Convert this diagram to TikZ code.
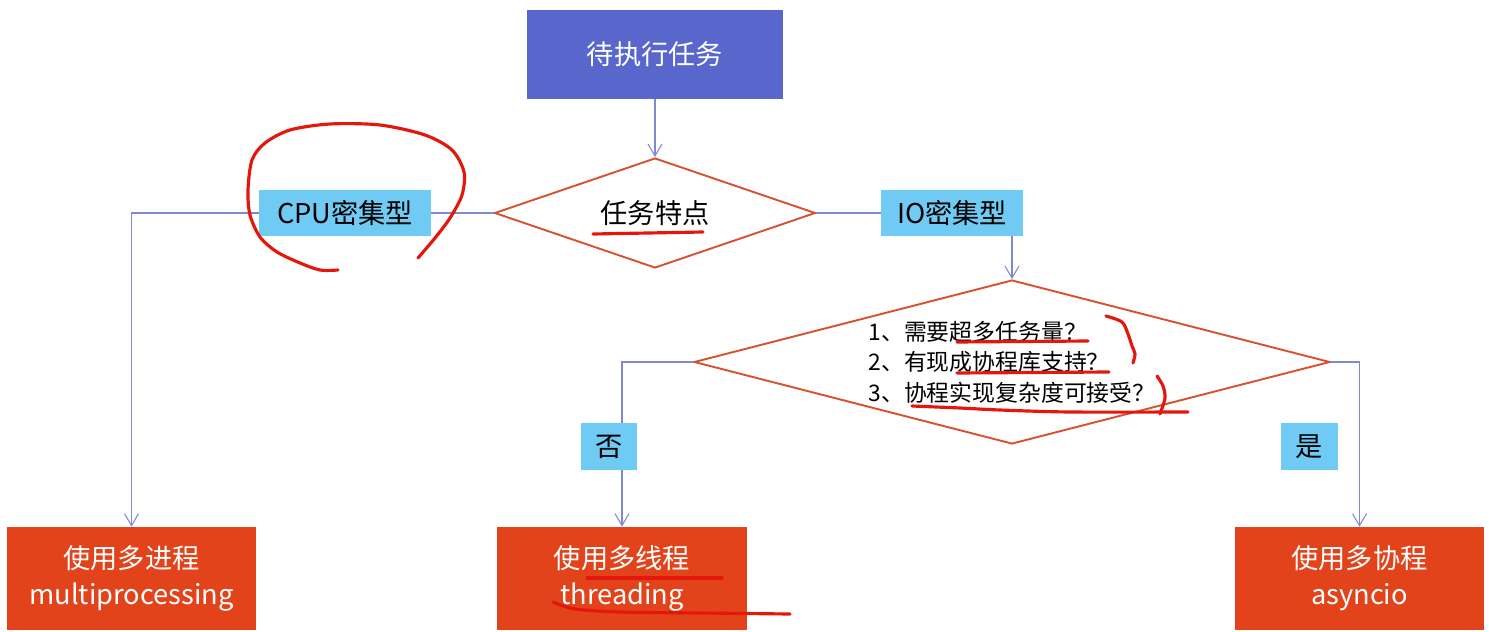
\documentclass[tikz,border=0pt]{standalone}
\usepackage{fontspec}
\setmainfont{Noto Sans CJK SC}
\usepackage{xcolor}
\usetikzlibrary{shapes.geometric, arrows.meta, positioning, calc}

\definecolor{taskblue}{HTML}{5966CC}
\definecolor{tagblue}{HTML}{6FCBF4}
\definecolor{resultred}{HTML}{E2431A}
\definecolor{edgered}{HTML}{D65330}
\definecolor{linkblue}{HTML}{8088D2}
\definecolor{penred}{HTML}{E3170C}

\begin{document}
\begin{tikzpicture}[x=0.02cm, y=-0.02cm,
    every node/.style={font=\fontsize{15.5}{20.5}\selectfont},
    startbox/.style={fill=taskblue, text=white, minimum width=5.12cm, minimum height=1.78cm},
    decision/.style={draw=edgered, line width=1.1pt, diamond, inner sep=0pt},
    tag/.style={fill=tagblue, inner sep=0pt, minimum height=0.94cm},
    result/.style={fill=resultred, text=white, align=center, minimum width=5cm, minimum height=2.06cm},
    link/.style={draw=linkblue, line width=0.6pt, -{Straight Barb[length=2.4mm, width=2.8mm]}},
    pen/.style={penred, line width=1.8pt, line cap=round, line join=round}]
        \useasboundingbox (0,0) rectangle (1489,632);
        \node[startbox] (start) at (655,54.5) {待执行任务};
        \node[decision, aspect=2.9, minimum width=6.42cm, minimum height=2.2cm] (q1) at (655,213) {任务特点};
        \node[decision, aspect=3.88, minimum width=12.72cm, minimum height=3.28cm, align=left,
            font=\fontsize{13}{17.3}\selectfont] (q2) at (1012,362)
            {1、需要超多任务量？\\2、有现成协程库支持？\\3、协程实现复杂度可接受？};
        \node[result] (mp) at (131.5,578.5) {使用多进程\\multiprocessing};
        \node[result] (thr) at (622,578.5) {使用多线程\\threading};
        \node[result] (asy) at (1359.5,578.5) {使用多协程\\asyncio};

        \draw[link] (start) -- (q1);
        \draw[link] (q1.west) -| node[tag, pos=0.205, minimum width=3.44cm] (cpu) {CPU密集型} (mp.north);
        \draw[link] (q1.east) -| node[tag, pos=0.347, minimum width=2.84cm] (io) {IO密集型} (q2.north);
        \draw[link] (q2.west) -| (thr.north);
        \node[tag, minimum width=1.12cm] (no) at (609,446.5) {否};
        \draw[link] (q2.east) -| (asy.north);
        \node[tag, minimum width=1.14cm] (yes) at (1309.5,446.5) {是};

        % hand-drawn marks
        \draw[pen] plot[smooth] coordinates {(338,270) (320,270) (300,263) (277,252) (260,237) (250,215)
            (248,190) (252,160) (265,143) (290,130) (330,124) (380,125) (425,135) (452,150) (464,172)
            (462,195) (450,218) (435,238) (418,258)};
        \draw[pen] (593,234) -- (703,232);
        \draw[pen] (957,342) -- (1088,341);
        \draw[pen] plot[smooth] coordinates {(1106,316) (1122,322) (1128,334) (1132,346) (1135,354) (1133,363)};
        \draw[pen] (957,373) -- (1109,372);
        \draw[pen] plot[smooth] coordinates {(912,406) (960,408) (1000,410) (1070,412) (1188,412)};
        \draw[pen] plot[smooth] coordinates {(1157,376) (1163,386) (1165,398) (1160,414)};
        \draw[pen] (587,578) -- (722,578);
        \draw[pen] plot[smooth] coordinates {(553,602) (575,609) (620,612) (700,613) (790,614)};
    \end{tikzpicture}
\end{document}
